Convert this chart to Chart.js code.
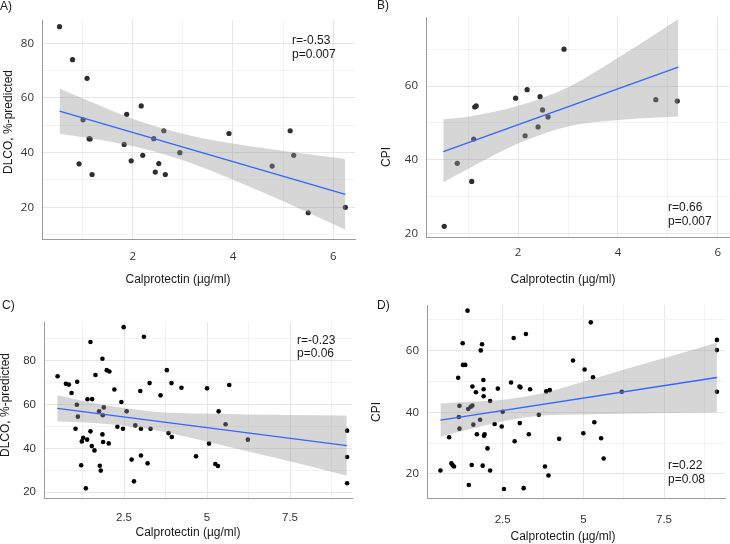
<!DOCTYPE html>
<html><head><meta charset="utf-8">
<script src="https://cdn.jsdelivr.net/npm/chart.js@4"></script>
<style>
html,body{margin:0;padding:0;background:#fff;width:730px;height:544px;overflow:hidden}
canvas{position:absolute}
</style></head><body>
<canvas id="cA" width="365" height="290" style="left:0;top:0"></canvas>
<canvas id="cB" width="365" height="290" style="left:365px;top:0"></canvas>
<canvas id="cC" width="365" height="254" style="left:0;top:290px"></canvas>
<canvas id="cD" width="365" height="254" style="left:365px;top:290px"></canvas>
<script>
// ---------- Panel A: Calprotectin vs DLCO ----------
const calproA = [0.54,0.80,1.09,1.01,1.13,1.15,0.93,1.19,1.88,1.83,1.97,2.17,2.20,2.42,2.52,2.45,2.62,2.65,2.94,3.92,4.78,5.14,5.21,5.50,6.24];
const dlcoA   = [86.1,74.0,67.2,52.0,45.1,45.0,35.9,32.0,54.0,43.0,37.0,57.1,39.0,45.1,36.0,32.9,48.0,32.0,40.0,47.0,35.1,48.0,39.0,18.0,20.0];
const fitXA = [0.54, 6.24];
const fitYA = [55.2, 24.7];
const bandXA  = [0.54, 1.02, 2.01, 3.0, 4.0, 4.99, 6.24];
const bandUpA = [63.5, 59.7, 52.3, 46.9, 43.3, 40.7, 37.7];
const bandLoA = [46.9, 45.6, 42.3, 37.2, 30.1, 22.3, 11.8];

// ---------- Panel B: Calprotectin vs CPI ----------
const calproB = [0.52,0.78,1.07,1.11,1.13,1.16,1.95,2.14,2.18,2.40,2.44,2.49,2.60,2.92,4.76,5.19];
const cpiB    = [21.9,39.0,34.1,45.6,54.3,54.6,56.7,46.5,59.0,48.9,57.1,53.5,51.6,70.0,56.3,55.9];
const fitXB = [0.5, 5.21];
const fitYB = [42.2, 65.1];
const bandXB  = [0.5, 1.02, 2.02, 3.02, 4.02, 5.21];
const bandUpB = [50.95, 51.7, 54.7, 59.8, 67.8, 78.1];
const bandLoB = [33.85, 37.7, 44.5, 49.1, 50.8, 51.7];

// ---------- Panel C: Calprotectin vs DLCO ----------
const calproC = [0.50,0.75,0.84,0.92,1.09,1.08,1.11,1.04,1.21,1.23,1.27,1.35,1.39,1.40,1.49,1.49,1.54,1.53,1.61,1.64,1.75,1.77,1.80,1.85,1.86,1.89,1.85,1.87,1.98,2.06,2.04,2.21,2.30,2.42,2.47,2.49,2.58,2.73,2.80,2.84,2.99,3.01,3.01,3.10,3.21,3.27,3.30,3.60,3.79,3.84,3.93,3.94,4.23,4.67,5.00,5.06,5.25,5.33,5.35,5.56,5.67,6.23,9.22,9.22,9.22];
const dlcoC   = [72.9,69.5,69.1,65.3,70.4,59.9,54.5,49.0,32.3,43.2,44.9,21.8,44.0,62.4,88.5,47.8,62.5,41.1,39.1,73.5,56.9,32.1,29.9,80.9,55.1,58.7,46.4,42.9,75.7,75.1,42.3,66.9,49.9,61.2,49.0,95.3,56.9,34.9,25.0,50.5,66.2,49.0,36.8,90.9,33.2,69.8,49.0,64.2,75.7,47.0,69.8,45.2,67.7,36.4,67.4,42.2,32.9,32.0,56.9,51.0,68.9,44.0,48.1,36.1,24.1];
const fitXC = [0.49, 9.21];
const fitYC = [58.3, 41.3];
const bandXC  = [0.49, 1.5, 2.45, 3.5, 4.98, 7.52, 9.21];
const bandUpC = [64.2, 60.85, 58.5, 56.65, 55.9, 55.2, 55.0];
const bandLoC = [52.3, 51.75, 50.5, 48.15, 43.2, 34.0, 27.6];

// ---------- Panel D: Calprotectin vs CPI ----------
const calproD = [0.57,0.84,0.91,0.95,0.99,1.12,1.14,1.16,1.16,1.26,1.27,1.34,1.41,1.43,1.45,1.51,1.54,1.56,1.56,1.59,1.67,1.70,1.80,1.82,1.86,1.88,1.90,1.91,1.91,1.92,1.94,2.03,2.11,2.11,2.25,2.35,2.47,2.50,2.54,2.76,2.84,2.87,3.02,3.03,3.05,3.15,3.22,3.31,3.35,3.62,3.81,3.85,3.92,3.96,4.25,4.68,5.00,5.04,5.23,5.30,5.34,5.55,5.63,6.19,9.14,9.14,9.14];
const cpiD    = [21.1,31.9,23.5,22.8,22.4,51.2,38.5,42.1,34.7,62.4,55.4,55.4,73.0,41.1,16.4,41.8,22.9,48.4,42.2,36.0,46.5,32.9,37.6,60.1,62.1,22.7,50.5,47.5,45.2,32.4,32.9,28.3,43.7,21.1,36.2,47.7,35.4,40.2,15.1,49.7,64.1,30.6,48.4,36.5,48.1,15.4,65.4,32.9,47.5,39.2,22.4,46.8,19.5,47.2,31.4,56.8,33.2,53.9,69.2,51.4,36.8,31.6,25.0,46.7,63.5,60.2,46.7];
const fitXD = [0.57, 9.14];
const fitYD = [37.5, 51.3];
const bandXD  = [0.57, 1.5, 2.5, 3.74, 5.0, 6.21, 9.14];
const bandUpD = [42.9, 43.4, 44.1, 46.2, 49.9, 53.7, 62.6];
const bandLoD = [32.1, 34.6, 37.1, 39.0, 39.3, 39.5, 40.0];

// tick labels
const xLabelsAB = [2, 4, 6];
const xLabelsCD = [2.5, 5, 7.5];
const yLabelsA = [20, 40, 60, 80];
const yLabelsB = [20, 40, 60];
const yLabelsC = [20, 40, 60, 80];
const yLabelsD = [20, 40, 60];

const XTITLE = 'Calprotectin (µg/ml)';
const ARIAL = '"Liberation Sans", Arial, sans-serif';
const OPEN = '"Open Sans", "Liberation Sans", Arial, sans-serif';

function zip(xs, ys){ return xs.map((x,i)=>({x:x, y:ys[i]})); }
function has(list, v){ return list.some(l => Math.abs(l - v) < 1e-6); }

function drawTexts(chart, items){
  const c = chart.ctx;
  for (const it of items){
    c.save();
    c.font = it.font || ('12px ' + ARIAL);
    c.fillStyle = it.color || '#1a1a1a';
    c.textAlign = it.align || 'left';
    c.textBaseline = 'middle';
    c.translate(it.x, it.y);
    if (it.rot) c.rotate(it.rot);
    c.fillText(it.t, 0, 0);
    c.restore();
  }
}

function panel(id, p){
  const axisFn = (labels, step, min, max, fitSize, horiz, pad, family) => ({
    type: 'linear', min: min, max: max,
    ticks: {
      stepSize: step, includeBounds: false, autoSkip: false, maxRotation: 0, minRotation: 0,
      padding: pad, color: '#333',
      font: { family: family, size: 11.5 },
      callback: v => has(labels, v) ? String(v) : ''
    },
    grid: {
      drawTicks: false, lineWidth: 1,
      color: c => (c.tick && has(labels, c.tick.value)) ? '#e6e6e6' : '#f2f2f2'
    },
    border: { display: true, color: '#9a9a9a', width: 1 },
    afterFit: s => { if (horiz) s.height = fitSize; else s.width = fitSize; }
  });
  new Chart(document.getElementById(id), {
    type: 'scatter',
    data: { datasets: [
      { data: zip(p.px, p.py), backgroundColor: p.ptColor, borderWidth: 0, pointRadius: p.r, pointHoverRadius: p.r, order: 3 },
      { type: 'line', data: zip(p.bx, p.bu), fill: '+1', backgroundColor: 'rgba(153,153,153,0.4)', borderColor: 'rgba(0,0,0,0)', borderWidth: 1, pointRadius: 0, tension: 0.4, cubicInterpolationMode: 'monotone', order: 2 },
      { type: 'line', data: zip(p.bx, p.bl), fill: false, borderColor: 'rgba(0,0,0,0)', borderWidth: 1, pointRadius: 0, tension: 0.4, cubicInterpolationMode: 'monotone', order: 2 },
      { type: 'line', data: zip(p.fx, p.fy), fill: false, borderColor: '#3366FF', borderWidth: 1.3, pointRadius: 0, order: 1 }
    ]},
    options: {
      responsive: false, animation: false, events: [],
      layout: { autoPadding: false, padding: { top: p.padTop, right: p.padRight, bottom: 0, left: 0 } },
      plugins: { legend: { display: false }, tooltip: { enabled: false } },
      scales: {
        x: axisFn(p.xl, p.xs, p.xmin, p.xmax, p.xh, true, p.xpad, p.xfont),
        y: axisFn(p.yl, p.ys, p.ymin, p.ymax, p.yw, false, 8, p.yfont)
      }
    },
    plugins: [{ id: 'txt' + id, afterDraw: ch => drawTexts(ch, p.texts) }]
  });
}

panel('cA', {
  px: calproA, py: dlcoA, fx: fitXA, fy: fitYA, bx: bandXA, bu: bandUpA, bl: bandLoA,
  ptColor: '#2e2e2e', r: 2.6,
  xl: xLabelsAB, xs: 1, xmin: 0.191, xmax: 6.433, xh: 51, xpad: 11, xfont: OPEN,
  yl: yLabelsA, ys: 10, ymin: 8.4, ymax: 88.53, yw: 42, yfont: OPEN,
  padTop: 20, padRight: 10,
  texts: [
    { t: 'A)', x: 0, y: 7 },
    { t: 'r=-0.53', x: 292, y: 41 },
    { t: 'p=0.007', x: 292, y: 55 },
    { t: 'DLCO, %-predicted', x: 9, y: 122, rot: -Math.PI/2, align: 'center' },
    { t: XTITLE, x: 178, y: 280, align: 'center' }
  ]
});
panel('cB', {
  px: calproB, py: cpiB, fx: fitXB, fy: fitYB, bx: bandXB, bu: bandUpB, bl: bandLoB,
  ptColor: '#2e2e2e', r: 2.6,
  xl: xLabelsAB, xs: 1, xmin: 0.154, xmax: 6.234, xh: 53, xpad: 9, xfont: OPEN,
  yl: yLabelsB, ys: 10, ymin: 19.0, ymax: 78.74, yw: 61, yfont: OPEN,
  padTop: 17, padRight: 0,
  texts: [
    { t: 'B)', x: 12, y: 6 },
    { t: 'r=0.66', x: 303, y: 208 },
    { t: 'p=0.007', x: 303, y: 222 },
    { t: 'CPI', x: 22, y: 157, rot: -Math.PI/2, align: 'center' },
    { t: XTITLE, x: 198, y: 280, align: 'center' }
  ]
});
panel('cC', {
  px: calproC, py: dlcoC, fx: fitXC, fy: fitYC, bx: bandXC, bu: bandUpC, bl: bandLoC,
  ptColor: '#000', r: 2.3,
  xl: xLabelsCD, xs: 1.25, xmin: 0.09, xmax: 9.367, xh: 46, xpad: 13, xfont: ARIAL,
  yl: yLabelsC, ys: 10, ymin: 17.4, ymax: 97.65, yw: 44, yfont: ARIAL,
  padTop: 32, padRight: 13,
  texts: [
    { t: 'C)', x: 2, y: 16 },
    { t: 'r=-0.23', x: 297, y: 51 },
    { t: 'p=0.06', x: 297, y: 64 },
    { t: 'DLCO, %-predicted', x: 6, y: 115, rot: -Math.PI/2, align: 'center' },
    { t: XTITLE, x: 188, y: 243, align: 'center' }
  ]
});
panel('cD', {
  px: calproD, py: cpiD, fx: fitXD, fy: fitYD, bx: bandXD, bu: bandUpD, bl: bandLoD,
  ptColor: '#000', r: 2.3,
  xl: xLabelsCD, xs: 1.25, xmin: 0.154, xmax: 9.39, xh: 46, xpad: 15, xfont: ARIAL,
  yl: yLabelsD, ys: 10, ymin: 12.2, ymax: 74.83, yw: 62, yfont: OPEN,
  padTop: 15, padRight: 5,
  texts: [
    { t: 'D)', x: 12, y: 16 },
    { t: 'r=0.22', x: 303, y: 176 },
    { t: 'p=0.08', x: 303, y: 190 },
    { t: 'CPI', x: 12, y: 122, rot: -Math.PI/2, align: 'center' },
    { t: XTITLE, x: 198, y: 247, align: 'center' }
  ]
});
</script>
</body></html>
